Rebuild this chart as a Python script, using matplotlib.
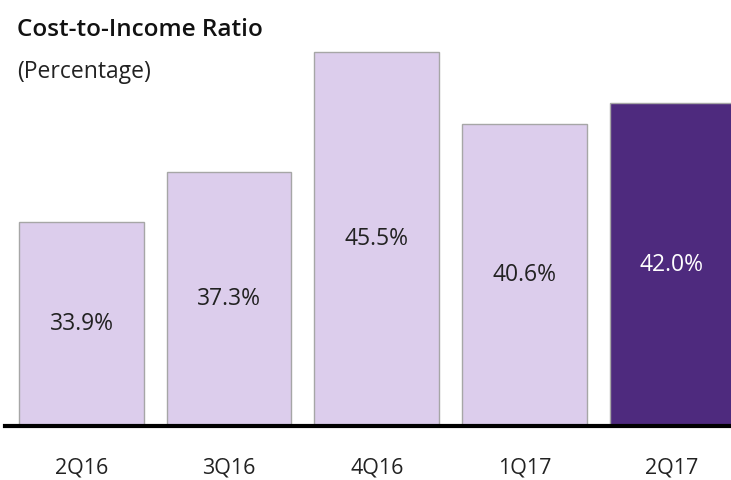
import matplotlib
matplotlib.use("Agg")
import matplotlib.pyplot as plt

categories = ["2Q16", "3Q16", "4Q16", "1Q17", "2Q17"]
values = [33.9, 37.3, 45.5, 40.6, 42.0]
labels = ["33.9%", "37.3%", "45.5%", "40.6%", "42.0%"]

light = "#DCCDEC"
dark = "#4E2A7E"
colors = [light, light, light, light, dark]
text_colors = ["#222222"] * 4 + ["#FFFFFF"]

plt.rcParams['font.family'] = ['Open Sans', 'DejaVu Sans']

W, H = 731, 480
fig = plt.figure(figsize=(W / 100, H / 100), dpi=100)
ax_left, ax_right = 5, 731
ax_bottom, ax_top = 426, 40
ax = fig.add_axes([ax_left / W, 1 - ax_bottom / H, (ax_right - ax_left) / W, (ax_bottom - ax_top) / H])

ymin = 20
ymax = ymin + (ax_bottom - ax_top) / 14.66
step = 147.6
xmin = (ax_left - 81.5) / step
xmax = (ax_right - 81.5) / step

x = list(range(len(categories)))
bars = ax.bar(x, [v - ymin for v in values], bottom=ymin, width=0.845,
              color=colors, edgecolor="#A6A6A6", linewidth=1.0, zorder=2)
for xi, v, lab, tc in zip(x, values, labels, text_colors):
    ax.text(xi, (ymin + v) / 2, lab, ha="center", va="center", fontsize=16.5, color=tc, zorder=3)

ax.set_xlim(xmin, xmax)
ax.set_ylim(ymin, ymax)
ax.axhline(ymin, color="black", linewidth=3.0, zorder=4, clip_on=False)

ax.set_xticks(x)
ax.set_xticklabels(categories, fontsize=15.5, color="#222222")
ax.tick_params(axis="x", length=0, pad=23)
ax.set_yticks([])
for s in ax.spines.values():
    s.set_visible(False)
ax.patch.set_alpha(0)

fig.text(17 / W, 1 - 30 / H, "Cost-to-Income Ratio", fontsize=17.5, fontweight="semibold",
         ha="left", va="center", color="#111111")
fig.text(17 / W, 1 - 72 / H, "(Percentage)", fontsize=16.5, ha="left", va="center", color="#222222")

fig.savefig("out.png", dpi=100)
